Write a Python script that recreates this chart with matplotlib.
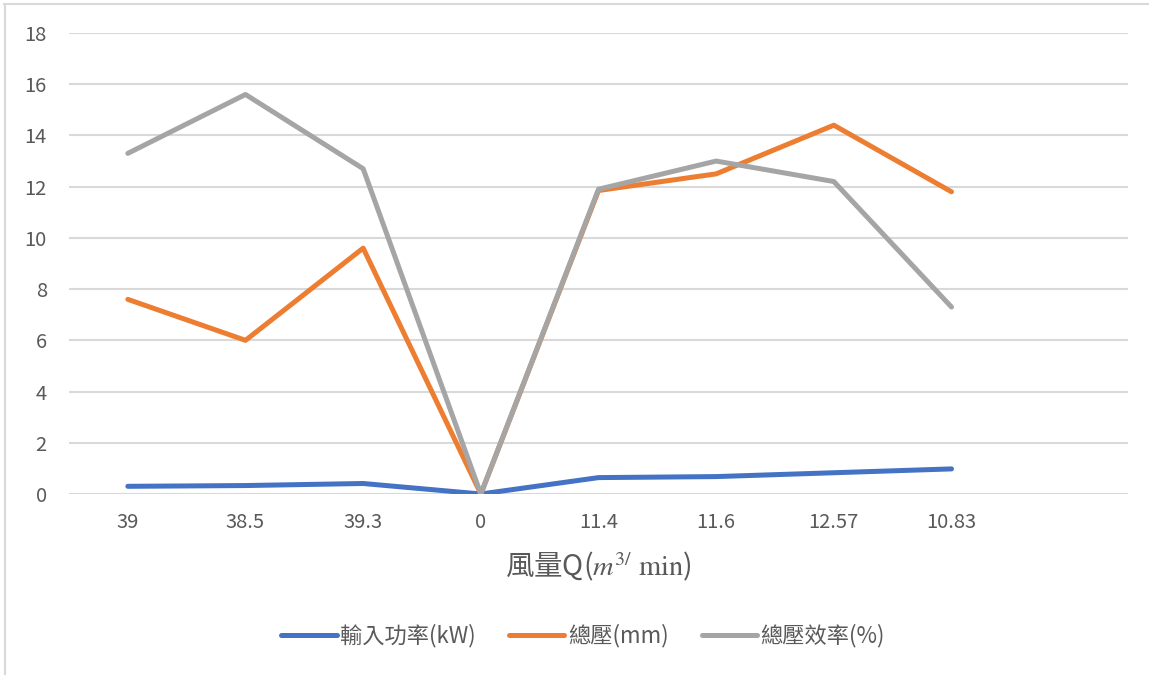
import matplotlib.pyplot as plt
import matplotlib.lines as mlines

plt.rcParams['font.family'] = ['Noto Sans CJK TC', 'DejaVu Sans']
plt.rcParams['mathtext.fontset'] = 'stix'

# Category labels (last slot is empty, as in the source sheet)
categories = ["39", "38.5", "39.3", "0", "11.4", "11.6", "12.57", "10.83", ""]

power_kw = [0.30, 0.33, 0.41, 0.0, 0.64, 0.68, 0.83, 0.98]
total_pressure = [7.6, 6.0, 9.6, 0.0, 11.85, 12.5, 14.4, 11.8]
efficiency = [13.3, 15.6, 12.7, 0.0, 11.9, 13.0, 12.2, 7.3]

series_names = ["輸入功率(kW)", "總壓(mm)", "總壓效率(%)"]
colours = ["#4472C4", "#ED7D31", "#A5A5A5"]
text_grey = "#595959"

fig = plt.figure(figsize=(11.49, 6.75), dpi=100)
ax = fig.add_axes([69 / 1149, 1 - 494 / 675, (1128 - 69) / 1149, (494 - 33) / 675])

x = list(range(len(power_kw)))
for values, colour in zip([power_kw, total_pressure, efficiency], colours):
    ax.plot(x, values, color=colour, lw=3.6,
            solid_capstyle='round', solid_joinstyle='round', zorder=3)

ax.set_xlim(-0.5, len(categories) - 0.5)
ax.set_ylim(0, 18)
ax.set_yticks(range(0, 19, 2))
ax.set_xticks(range(len(categories)))
ax.set_xticklabels(categories)
ax.grid(axis='y', color='#D9D9D9', lw=1.5)
ax.set_axisbelow(True)
for side in ax.spines.values():
    side.set_visible(False)
ax.tick_params(length=0, labelsize=14.5, colors=text_grey)
ax.tick_params(axis='x', pad=13)
ax.tick_params(axis='y', pad=16)

ax.set_xlabel(r'風量Q($m^{3/}\ \mathrm{min}$)', fontsize=20.5,
              color=text_grey, labelpad=12)

handles = [mlines.Line2D([], [], color=c, lw=3.6, solid_capstyle='round')
           for c in colours]
fig.legend(handles, series_names, loc='center', ncol=3,
           bbox_to_anchor=(583 / 1149, 1 - 636 / 675), frameon=False,
           fontsize=16, handlelength=2.5, handletextpad=0.15,
           columnspacing=1.5, labelcolor=text_grey)

# light outer frame (top and left edges visible in the screenshot)
fig.add_artist(mlines.Line2D([4 / 1149, 1], [1 - 4 / 675, 1 - 4 / 675],
                             color='#D9D9D9', lw=1.5))
fig.add_artist(mlines.Line2D([5 / 1149, 5 / 1149], [0, 1 - 4 / 675],
                             color='#D9D9D9', lw=1.5))

fig.savefig('out.png', dpi=100, facecolor='white')
